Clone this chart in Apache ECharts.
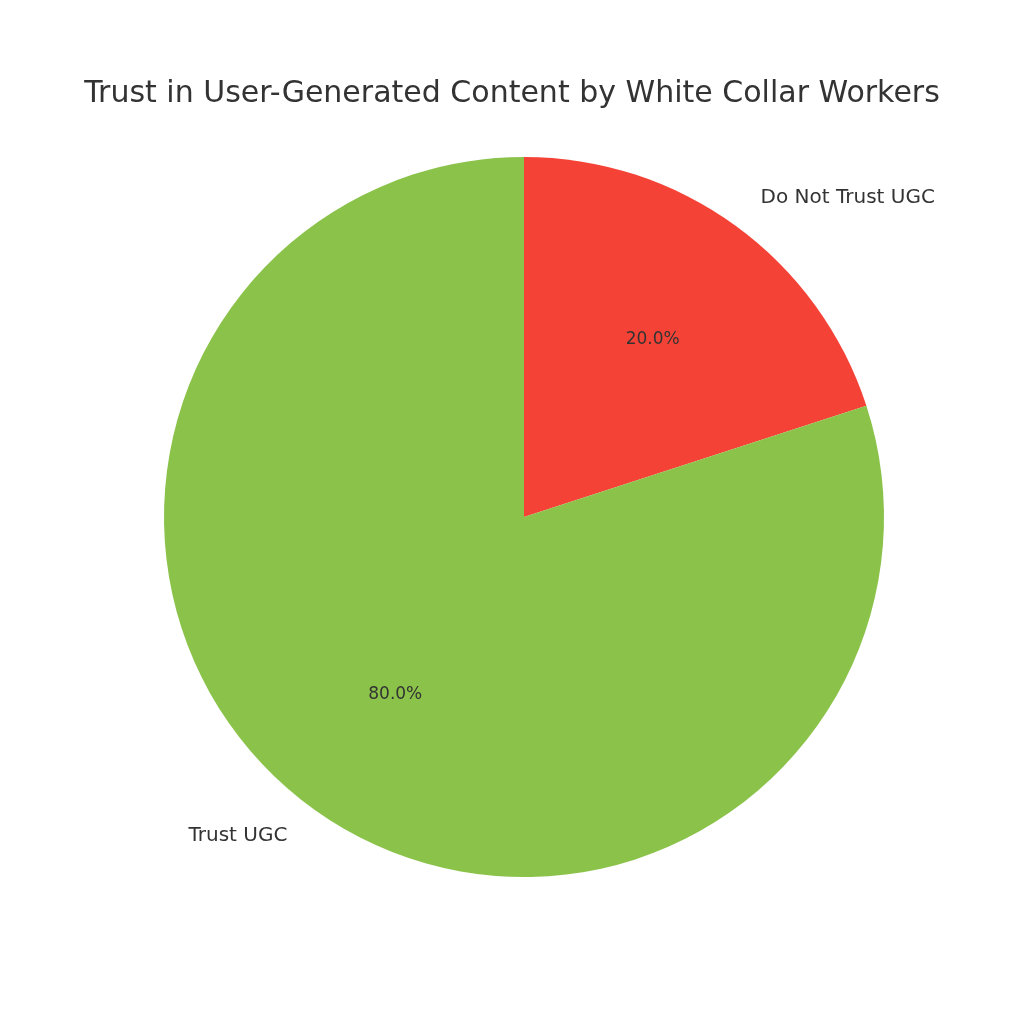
<!DOCTYPE html>
<html><head><meta charset="utf-8">
<script src="https://cdn.jsdelivr.net/npm/echarts@6/dist/echarts.min.js"></script>
<style>html,body{margin:0;padding:0;background:#fff}#c{width:1024px;height:1024px}</style>
</head><body><div id="c"></div>
<script>
const titleText = "Trust in User-Generated Content by White Collar Workers";
const categories = ["Do Not Trust UGC", "Trust UGC"];
const values = [20, 80];
const colors = ["#f44336", "#8bc34a"];

const chart = echarts.init(document.getElementById('c'));
const data = categories.map((c, i) => ({name: c, value: values[i], itemStyle: {color: colors[i]}}));
const total = values.reduce((a, b) => a + b, 0);
chart.setOption({
  backgroundColor: '#fff',
  animation: false,
  title: {text: titleText, left: 'center', top: 74,
    textStyle: {fontFamily: 'DejaVu Sans', fontSize: 30, fontWeight: 'normal', color: '#333'}},
  series: [
    {type: 'pie', center: [524, 517], radius: [0, 360], startAngle: 90, clockwise: true,
     data: data, silent: true,
     label: {show: true, position: 'outside', fontFamily: 'DejaVu Sans', fontSize: 20, color: '#333',
       formatter: '{b}'},
     labelLine: {show: false, length: 34, length2: 0},
     itemStyle: {borderWidth: 0}},
    {type: 'pie', center: [524, 517], radius: [0, 432], startAngle: 90, clockwise: true,
     data: data.map(d => ({name: d.name, value: d.value, itemStyle: {color: 'rgba(0,0,0,0)'}})),
     silent: true, z: 5,
     label: {show: true, position: 'inside', fontFamily: 'DejaVu Sans', fontSize: 17, color: '#333',
       formatter: p => (p.value / total * 100).toFixed(1) + '%'},
     labelLine: {show: false}}
  ]
});
</script></body></html>
